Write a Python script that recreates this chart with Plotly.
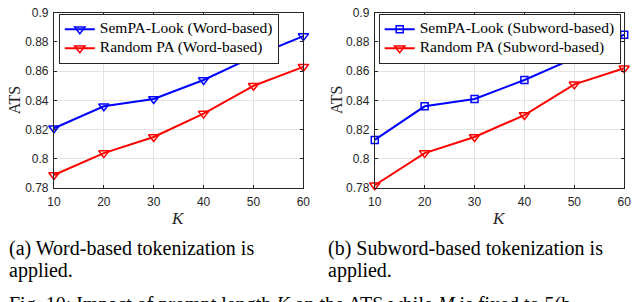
import plotly.graph_objects as go

# ---- data ----
K = [10, 20, 30, 40, 50, 60]
word_sempa = [0.821, 0.836, 0.841, 0.854, 0.870, 0.884]
word_random = [0.789, 0.804, 0.815, 0.831, 0.850, 0.863]
sub_sempa = [0.813, 0.836, 0.841, 0.854, 0.869, 0.885]
sub_random = [0.782, 0.804, 0.815, 0.830, 0.851, 0.862]
y_ticks = [0.78, 0.80, 0.82, 0.84, 0.86, 0.88, 0.90]
y_tick_labels = ["0.78", "0.8", "0.82", "0.84", "0.86", "0.88", "0.9"]
x_ticks = [10, 20, 30, 40, 50, 60]
names = ["SemPA-Look (Word-based)", "Random PA (Word-based)",
         "SemPA-Look (Subword-based)", "Random PA (Subword-based)"]

W, H = 640, 302
BLUE = "rgb(0,0,255)"
RED = "rgb(255,0,0)"
AXC = "#262626"
SERIF = "Liberation Serif"
SANS = "Liberation Sans"


def px(x):
    return x / W


def py(y):
    return 1 - y / H


def lname(s):
    return '<span style="font-size:15.5px">' + s + '</span>'


fig = go.Figure()

fig.add_trace(go.Scatter(x=K, y=word_sempa, mode="lines+markers", name=lname(names[0]),
                         line=dict(color=BLUE, width=2),
                         marker=dict(symbol="triangle-down-open", size=9, color=BLUE, line=dict(width=1.5)),
                         cliponaxis=False, xaxis="x", yaxis="y", legend="legend"))
fig.add_trace(go.Scatter(x=K, y=word_random, mode="lines+markers", name=lname(names[1]),
                         line=dict(color=RED, width=2),
                         marker=dict(symbol="triangle-down-open", size=9, color=RED, line=dict(width=1.5)),
                         cliponaxis=False, xaxis="x", yaxis="y", legend="legend"))
fig.add_trace(go.Scatter(x=K, y=sub_sempa, mode="lines+markers", name=lname(names[2]),
                         line=dict(color=BLUE, width=2),
                         marker=dict(symbol="square-open", size=7, color=BLUE, line=dict(width=1.5)),
                         cliponaxis=False, xaxis="x2", yaxis="y2", legend="legend2"))
fig.add_trace(go.Scatter(x=K, y=sub_random, mode="lines+markers", name=lname(names[3]),
                         line=dict(color=RED, width=2),
                         marker=dict(symbol="triangle-down-open", size=9, color=RED, line=dict(width=1.5)),
                         cliponaxis=False, xaxis="x2", yaxis="y2", legend="legend2"))

xcommon = dict(range=[10, 60], tickvals=x_ticks, showgrid=True, gridcolor="#e3e3e3", gridwidth=1,
               showline=True, linecolor=AXC, linewidth=1, mirror="ticks", ticks="inside", ticklen=3,
               tickcolor=AXC, tickfont=dict(family=SANS, size=12, color=AXC), zeroline=False,
               ticklabelstandoff=2, ticklabeloverflow="allow")
ycommon = dict(range=[0.7799999, 0.9000001], tickvals=y_ticks, ticktext=y_tick_labels, showgrid=True,
               gridcolor="#e3e3e3", gridwidth=1, showline=True, linecolor=AXC, linewidth=1,
               mirror="ticks", ticks="inside", ticklen=3, tickcolor=AXC,
               tickfont=dict(family=SANS, size=12, color=AXC), zeroline=False, ticklabelstandoff=2,
               ticklabeloverflow="allow")

legcommon = dict(bgcolor="white", bordercolor=AXC, borderwidth=1, xanchor="left", yanchor="top",
                 font=dict(family=SERIF, size=10, color="black"), tracegroupgap=0, itemwidth=30)

fig.update_layout(
    width=W, height=H, margin=dict(l=0, r=0, t=0, b=0),
    paper_bgcolor="white", plot_bgcolor="white", showlegend=True,
    xaxis=dict(domain=[px(48), px(303)], anchor="y", **xcommon),
    yaxis=dict(domain=[py(190), py(6)], anchor="x", **ycommon),
    xaxis2=dict(domain=[px(376), px(631)], anchor="y2", **xcommon),
    yaxis2=dict(domain=[py(190), py(6)], anchor="x2", **ycommon),
    legend=dict(x=px(53), y=py(7), **legcommon),
    legend2=dict(x=px(380), y=py(7), **legcommon),
)

CAP = dict(family=SERIF, size=20, color="black")
annos = [
    dict(text="ATS", x=px(8), y=py(98), textangle=-90, font=dict(family=SERIF, size=16, color=AXC)),
    dict(text="ATS", x=px(337), y=py(98), textangle=-90, font=dict(family=SERIF, size=16, color=AXC)),
    dict(text="<i>K</i>", x=px(175), y=py(222), font=dict(family=SERIF, size=17, color=AXC)),
    dict(text="<i>K</i>", x=px(503), y=py(222), font=dict(family=SERIF, size=17, color=AXC)),
    dict(text="(a) Word-based tokenization is", x=px(0), y=py(253), xanchor="left", font=CAP),
    dict(text="applied.", x=px(0), y=py(276), xanchor="left", font=CAP),
    dict(text="(b) Subword-based tokenization is", x=px(326), y=py(253), xanchor="left", font=CAP),
    dict(text="applied.", x=px(326), y=py(276), xanchor="left", font=CAP),
    dict(text="Fig. 10: Impact of prompt length <i>K</i> on the ATS while <i>M</i> is fixed to 5(b",
         x=px(0), y=py(312), xanchor="left", font=CAP),
]
for a in annos:
    a.setdefault("xanchor", "center")
    a.setdefault("yanchor", "middle")
    fig.add_annotation(xref="paper", yref="paper", showarrow=False, **a)

fig.write_html("out.html", config={"displayModeBar": False},
               post_script="document.body.style.margin='0';document.body.style.overflow='hidden';")
